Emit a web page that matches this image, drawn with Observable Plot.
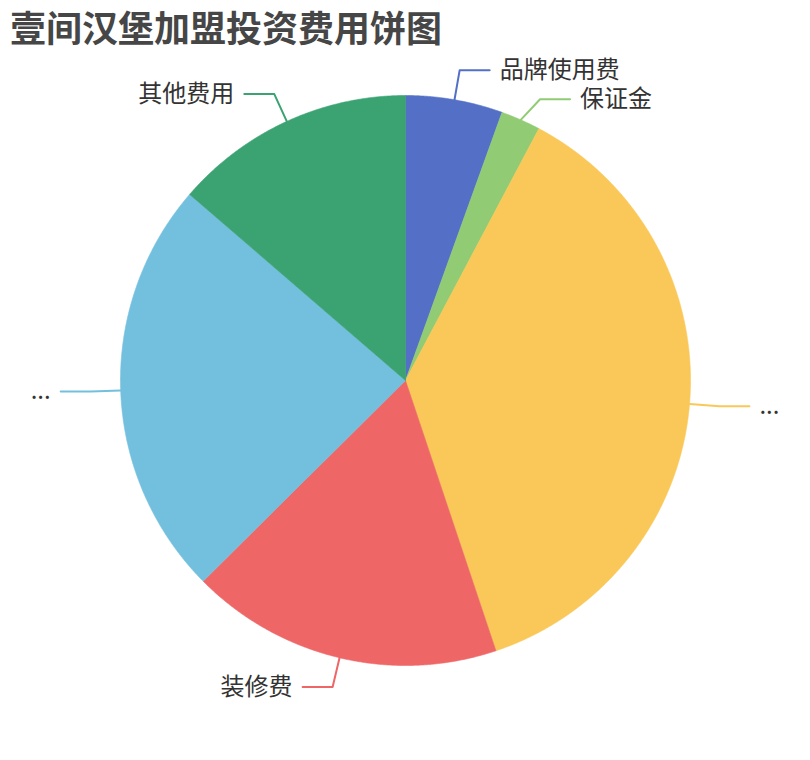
<!DOCTYPE html>
<html><head><meta charset="utf-8">
<script src="https://cdn.jsdelivr.net/npm/d3@7"></script>
<script src="https://cdn.jsdelivr.net/npm/@observablehq/plot@0.6"></script>
<style>
body{margin:0;background:#fff;}
#wrap{position:relative;width:810px;height:760px;}
#title{position:absolute;left:10px;top:0;height:52px;font:bold 36px/52px "Noto Sans CJK SC",sans-serif;color:#464646;white-space:nowrap;z-index:2;}
#chart{position:absolute;left:0;top:0;}
#chart svg{display:block;}
</style></head><body>
<div id="wrap"><div id="title">壹间汉堡加盟投资费用饼图</div><div id="chart"></div></div>
<script>
// data
const labels = ["品牌使用费", "保证金", "...", "装修费", "...", "其他费用"];
const values = [5.5, 2.25, 37.1, 17.7, 23.75, 13.67];
const colors = ["#5470c6", "#91cc75", "#fac858", "#ee6666", "#73c0de", "#3ba272"];

// layout
const W = 810, H = 760, CX = 405, CY = 380, R = 285;
const L1 = 30, L2 = 30, GAP = 29;

const arcs = d3.pie().sort(null).value(d => d)(values);

const slicePts = [];
arcs.forEach((a, i) => {
  slicePts.push({i, x: 0, y: 0});
  const n = Math.max(2, Math.ceil((a.endAngle - a.startAngle) / 0.004));
  for (let k = 0; k <= n; k++) {
    const t = a.startAngle + (a.endAngle - a.startAngle) * k / n;
    slicePts.push({i, x: Math.sin(t), y: Math.cos(t)});
  }
  slicePts.push({i, x: 0, y: 0});
});

const r1 = 1 + L1 / R;
const lab = arcs.map((a, i) => {
  const m = (a.startAngle + a.endAngle) / 2;
  const side = Math.sin(m) >= 0 ? 1 : -1;
  return {i, side, m, x0: Math.sin(m), y0: Math.cos(m), x1: r1 * Math.sin(m), y1: r1 * Math.cos(m), text: labels[i]};
});
// avoid overlap per side
[1, -1].forEach(s => {
  const g = lab.filter(d => d.side === s).sort((a, b) => b.y1 - a.y1);
  for (let k = 1; k < g.length; k++) {
    const maxY = g[k - 1].y1 - GAP / R;
    if (g[k].y1 > maxY) {
      g[k].y1 = maxY;
      const onCircle = s * Math.sqrt(Math.max(0, r1 * r1 - maxY * maxY));
      g[k].x1 = (g[k].x1 + onCircle) / 2;
    }
  }
});
lab.forEach(d => { d.x2 = d.x1 + d.side * L2 / R; });

const linePts = [];
lab.forEach(d => {
  linePts.push({i: d.i, x: d.x0, y: d.y0});
  linePts.push({i: d.i, x: d.x1, y: d.y1});
  linePts.push({i: d.i, x: d.x2, y: d.y1});
});

const font = "Noto Sans CJK SC, sans-serif";
const chart = Plot.plot({
  width: W, height: H, margin: 0,
  style: {background: "transparent", fontFamily: font},
  x: {domain: [-CX / R, (W - CX) / R], range: [0, W], axis: null},
  y: {domain: [-(H - CY) / R, CY / R], range: [H, 0], axis: null},
  color: {type: "ordinal", domain: d3.range(values.length), range: colors},
  marks: [
    Plot.line(slicePts, {x: "x", y: "y", z: "i", fill: "i", stroke: "i", strokeWidth: 0.6, curve: "linear"}),
    Plot.line(linePts, {x: "x", y: "y", z: "i", stroke: "i", strokeWidth: 2, curve: "linear"}),
    Plot.text(lab.filter(d => d.side > 0), {x: "x2", y: "y1", text: "text", textAnchor: "start", dx: 10, fontSize: 24, fill: "#333", fontFamily: font}),
    Plot.text(lab.filter(d => d.side < 0), {x: "x2", y: "y1", text: "text", textAnchor: "end", dx: -10, fontSize: 24, fill: "#333", fontFamily: font})
  ]
});
document.getElementById("chart").appendChild(chart);
</script>
</body></html>
